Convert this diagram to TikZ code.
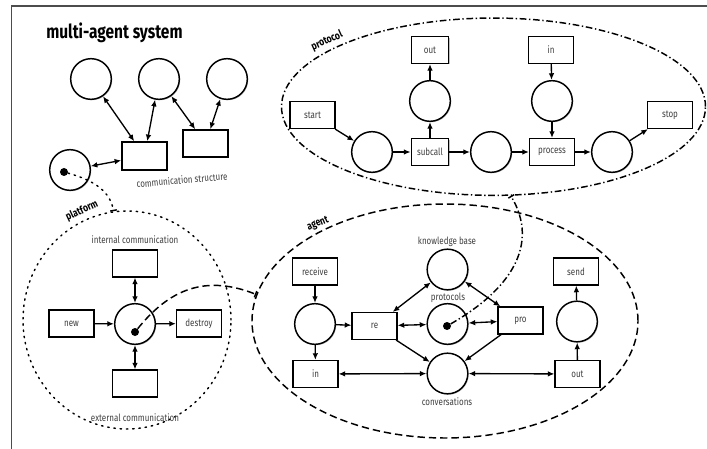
\documentclass[tikz,border=0pt]{standalone}
\usepackage{fontspec}
\setmainfont{Fira Sans}[FakeStretch=0.8]
\usetikzlibrary{arrows.meta,shapes.geometric,shadows}

\tikzset{
  x=0.75pt, y=-0.75pt,
  softshadow/.style={drop shadow={shadow xshift=0.7pt, shadow yshift=-0.7pt, opacity=0.25, fill=black}},
  place/.style={circle, draw, line width=1.1pt, fill=white, minimum size=30.5pt, inner sep=0pt, softshadow},
  trans/.style={rectangle, draw, line width=1.1pt, fill=white, minimum width=33.5pt, minimum height=20pt,
                inner sep=1pt, font=\fontsize{7.5}{8}\selectfont, text=black!75, softshadow},
  narrow/.style={minimum width=28pt},
  tok/.style={circle, fill=black, minimum size=6pt, inner sep=0pt},
  note/.style={font=\fontsize{7.5}{8}\selectfont, text=black!75, inner sep=1pt},
  grouplabel/.style={font=\bfseries\fontsize{8}{9}\selectfont, inner sep=0.5pt},
  region/.style={ellipse, draw, line width=1.1pt, inner sep=0pt},
  tip/.tip={Latex[length=5pt,width=4.2pt]},
  arr/.style={-tip, line width=1pt},
  darr/.style={tip-tip, line width=1pt},
  link/.style={line width=1.1pt, -{Bar[width=5pt]}},
  dashdot/.style={dash pattern=on 5pt off 2pt on 1pt off 2pt},
  longdash/.style={dash pattern=on 5.5pt off 3pt},
  dotline/.style={dash pattern=on 1.1pt off 3.6pt, line cap=round},
}

\begin{document}
\begin{tikzpicture}
\useasboundingbox (0,0) rectangle (707,449);

% page frame
\draw[black!70, line width=1pt] (11.5,449) -- (11.5,6) -- (707,6);

% ---------------- multi-agent system ----------------
\node[anchor=west, font=\bfseries\fontsize{14.5}{15}\selectfont, inner sep=0pt] (title) at (46,33) {multi-agent system};

\node[place] (c1) at (91,79) {};
\node[place] (c2) at (159,79) {};
\node[place] (c3) at (227,79) {};
\node[trans, minimum width=33.75pt, minimum height=21pt] (b1) at (144.5,156) {};
\node[trans, minimum width=33.75pt, minimum height=20.25pt] (b2) at (205.5,143.5) {};
\node[place] (m0) at (70,170) {};
\node[tok] (tm) at (64,172) {};
\node[note, rotate=5] (cslabel) at (182,180) {communication structure};

\draw[darr] (c1) -- (b1);
\draw[darr] (c2) -- (b1);
\draw[darr] (c2) -- (b2);
\draw[darr] (c3) -- (b2);
\draw[darr] (m0) -- (b1);

% ---------------- protocol ----------------
\node[region, dashdot, minimum width=318pt, minimum height=133pt] (proto) at (493.5,106.7) {};
\node[grouplabel, rotate=24] (protolabel) at (327,41) {protocol};

\node[trans] (start) at (312.5,115) {start};
\node[place] (p1) at (372,152) {};
\node[trans, narrow] (subcall) at (430,152) {subcall};
\node[place] (pc) at (430,101) {};
\node[trans, narrow] (pout) at (430,50) {out};
\node[place] (p3) at (491,152) {};
\node[trans] (process) at (552,152) {process};
\node[place] (pi) at (552,101) {};
\node[trans] (pin) at (551,50) {in};
\node[place] (p5) at (612,152) {};
\node[trans] (stop) at (670,115) {stop};

\draw[arr] (start) -- (p1);
\draw[arr] (p1) -- (subcall);
\draw[arr] (subcall) -- (pc);
\draw[arr] (pc) -- (pout);
\draw[arr] (subcall) -- (p3);
\draw[arr] (p3) -- (process);
\draw[arr] (pin) -- (pi);
\draw[arr] (pi) -- (process);
\draw[arr] (process) -- (p5);
\draw[arr] (p5) -- (stop);

% ---------------- agent ----------------
\node[region, longdash, minimum width=289.5pt, minimum height=175.5pt] (agent) at (445,321) {};
\node[grouplabel, rotate=22] (agentlabel) at (318,224) {agent};

\node[trans] (receive) at (315,271.5) {receive};
\node[place] (a1) at (315,324) {};
\node[trans] (ain) at (315.5,374) {in};
\node[trans] (re) at (374.5,326) {re};
\node[place] (kb) at (447.5,269.5) {};
\node[place] (prot) at (447.5,324) {};
\node[tok] (tp) at (447,326) {};
\node[place] (conv) at (447.5,373.5) {};
\node[trans] (pro) at (520.5,320.5) {pro};
\node[place] (a2) at (577,321.5) {};
\node[trans] (send) at (576,271.5) {send};
\node[trans] (aout) at (577.5,374) {out};

\node[note] (kblabel) at (447,242) {knowledge base};
\node[note] (protlabel) at (448,298) {protocols};
\node[note] (convlabel) at (447,402) {conversations};

\draw[arr] (receive) -- (a1);
\draw[arr] (a1) -- (re);
\draw[arr] (a1) -- (ain);
\draw[darr] (re) -- (kb);
\draw[darr] (re) -- (prot);
\draw[arr] (re) -- (conv);
\draw[darr] (pro) -- (kb);
\draw[darr] (pro) -- (prot);
\draw[arr] (pro) -- (conv);
\draw[darr] (ain) -- (conv);
\draw[darr] (conv) -- (aout);
\draw[arr] (aout) -- (a2);
\draw[arr] (a2) -- (send);

% ---------------- platform ----------------
\node[region, dotline, minimum width=156pt, minimum height=163.5pt] (plat) at (127,320) {};
\node[grouplabel, rotate=25] (platlabel) at (82,211) {platform};

\node[trans] (intc) at (135,263.5) {};
\node[trans] (new) at (71.5,323.5) {new};
\node[place] (pcirc) at (135,324) {};
\node[tok] (tpl) at (135,332) {};
\node[trans] (destroy) at (199,323.5) {destroy};
\node[trans] (extc) at (135,383.5) {};

\node[note] (intlabel) at (135,240) {internal communication};
\node[note] (extlabel) at (135,418) {external communication};

\draw[arr] (new) -- (pcirc);
\draw[arr] (pcirc) -- (destroy);
\draw[darr] (intc) -- (pcirc);
\draw[darr] (pcirc) -- (extc);

% ---------------- links between levels ----------------
\draw[link, dotline] (tm) .. controls (96,181) and (110,192) .. (plat.97);
\draw[link, longdash] (tpl) .. controls (165,295) and (200,272) .. (agent.172.6);
\draw[link, dashdot] (tp) .. controls (510,290) and (540,245) .. (proto.-79.5);
\end{tikzpicture}
\end{document}
